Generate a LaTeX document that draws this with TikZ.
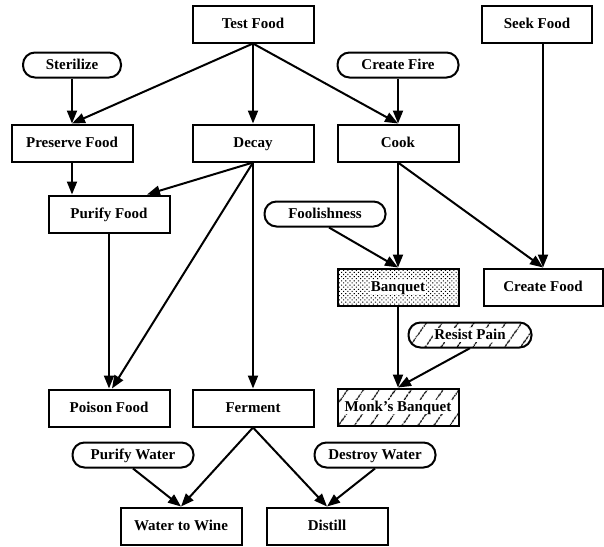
\documentclass[tikz,border=0pt]{standalone}
\usepackage{fontspec}
\setmainfont{Liberation Serif}
\usetikzlibrary{arrows.meta,patterns.meta,calc}
\begin{document}
\begin{tikzpicture}[x=1pt,y=-1pt,
  lbl/.style={font=\bfseries\fontsize{15}{18}\selectfont,text height=10pt,text depth=2pt},
  box/.style={lbl,draw,line width=2pt,minimum width=121pt,minimum height=37pt,inner sep=0pt},
  pill/.style={lbl,draw,line width=2pt,rounded corners=12pt,minimum width=121pt,minimum height=25pt,inner sep=0pt},
  dotsfill/.style={pattern={Dots[angle=45,distance=3pt,radius=0.75pt]}},
  hatchfill/.style={pattern={Lines[angle=55,distance=13pt,line width=1.3pt]}},
  whitelbl/.style={lbl,fill=white,inner sep=1pt},
  arr/.style={line width=2pt,-{Triangle[length=13pt,width=10pt]}},
]
\useasboundingbox (0,0) rectangle (604,546);

% nodes
\node[box] (test) at (253,24) {Test Food};
\node[box,minimum width=110pt] (seek) at (537,24) {Seek Food};
\node[pill,minimum width=98pt] (steril) at (72,65) {Sterilize};
\node[pill] (fire) at (398,65) {Create Fire};
\node[box] (preserve) at (72,143) {Preserve Food};
\node[box] (decay) at (253,143) {Decay};
\node[box] (cook) at (398,143) {Cook};
\node[box] (purify) at (109,214) {Purify Food};
\node[pill] (fool) at (325,214) {Foolishness};
\node[box,dotsfill] (banquet) at (398,287) {};
\node[whitelbl] (banquetT) at (banquet) {Banquet};
\node[box,minimum width=119pt] (create) at (543,287) {Create Food};
\node[pill,hatchfill,minimum width=123pt] (resist) at (470,335) {};
\node[whitelbl] (resistT) at (resist) {Resist Pain};
\node[box] (poison) at (109,408) {Poison Food};
\node[box] (ferment) at (253,408) {Ferment};
\node[box,hatchfill] (monk) at (398,407) {};
\node[whitelbl] (monkT) at (monk) {Monk's Banquet};
\node[pill] (pwater) at (133,455) {Purify Water};
\node[pill] (dwater) at (375,455) {Destroy Water};
\node[box] (wine) at (181,526) {Water to Wine};
\node[box] (distill) at (327,526) {Distill};

% connectors
\draw[arr] (test.south) -- (preserve.north);
\draw[arr] (test.south) -- (decay.north);
\draw[arr] (test.south) -- (cook.north);
\draw[arr] (steril.south) -- (steril.south |- preserve.north);
\draw[arr] (fire.south) -- (cook.north);
\draw[arr] (preserve.south) -- (preserve.south |- purify.north);
\draw[arr] (decay.south) -- ($(purify.north)+(38,0)$);
\draw[arr] (decay.south) -- ($(poison.north)+(3,0)$);
\draw[arr] (decay.south) -- (ferment.north);
\draw[arr] (purify.south) -- (purify.south |- poison.north);
\draw[arr] (cook.south) -- (banquet.north);
\draw[arr] (cook.south) -- (create.north);
\draw[arr] (seek.south -| create.north) -- (create.north);
\draw[arr] ($(fool.south)+(4,0)$) -- (banquet.north);
\draw[arr] (banquet.south) -- (monk.north);
\draw[arr] (resist.south) -- (monk.north);
\draw[arr] (ferment.south) -- (wine.north);
\draw[arr] (ferment.south) -- (distill.north);
\draw[arr] (pwater.south) -- (wine.north);
\draw[arr] (dwater.south) -- (distill.north);
\end{tikzpicture}
\end{document}
